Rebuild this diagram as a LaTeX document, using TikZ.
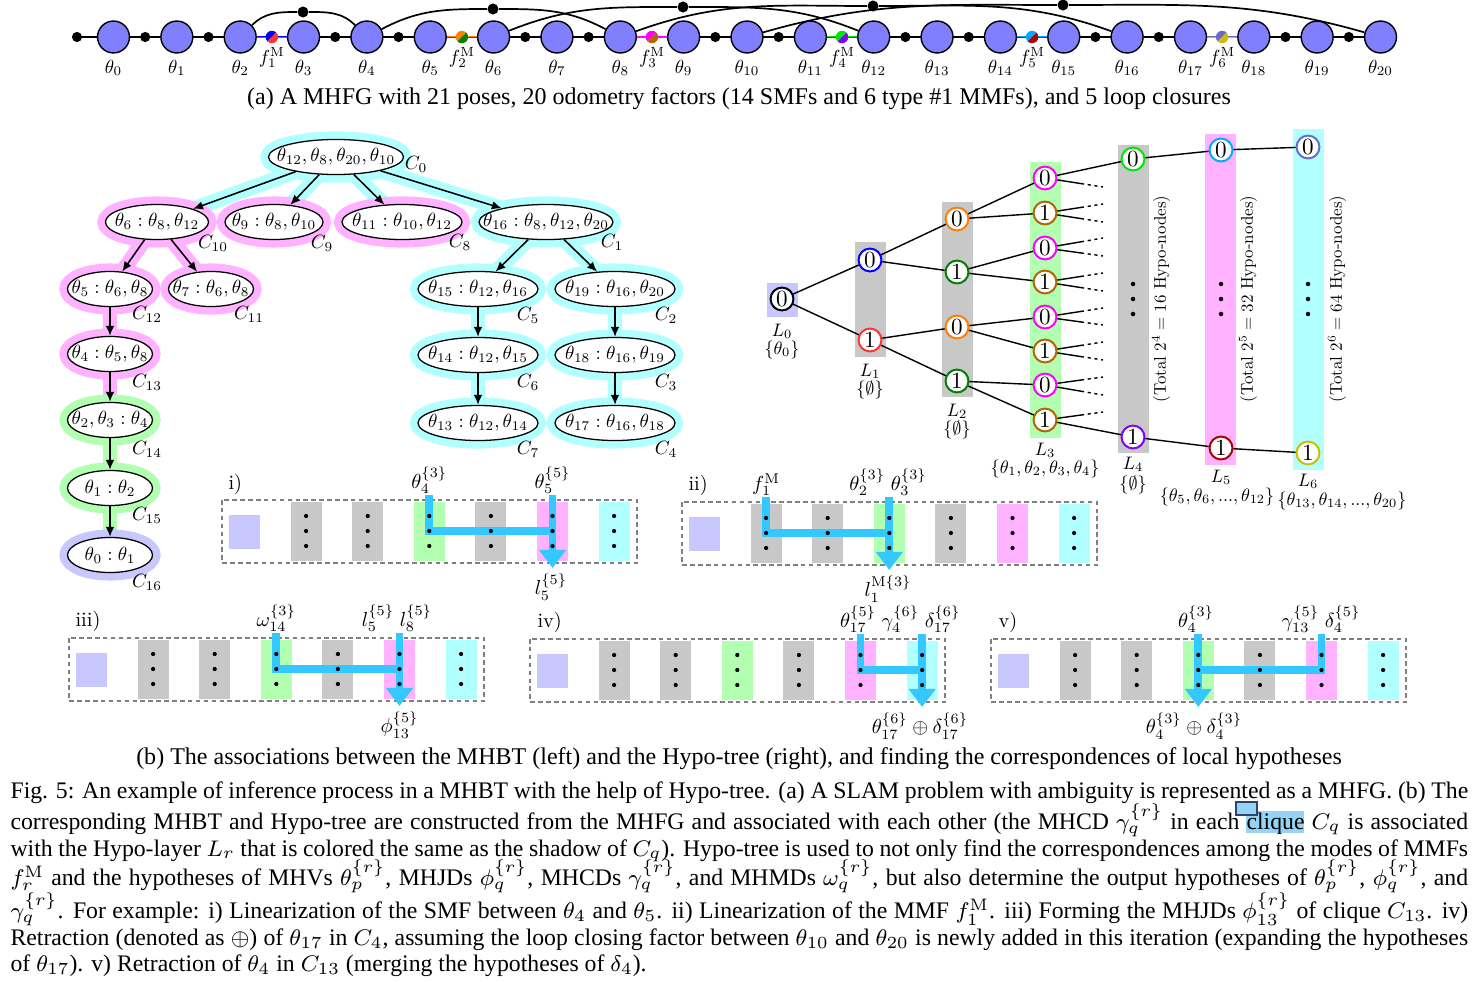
\documentclass[tikz,border=0pt]{standalone}
\usepackage{fontspec}
\usepackage{graphicx}
\newfontfamily\capfont{Liberation Serif}
\usetikzlibrary{shapes.geometric,arrows.meta,calc}
\pgfdeclarelayer{bg}
\pgfsetlayers{bg,main}
\definecolor{poseblue}{RGB}{128,128,255}
\definecolor{hcyan}{RGB}{178,255,255}
\definecolor{hpink}{RGB}{255,178,255}
\definecolor{hgreen}{RGB}{178,255,178}
\definecolor{hlav}{RGB}{200,200,255}
\definecolor{hgray}{RGB}{200,200,200}
\definecolor{acyan}{RGB}{51,200,255}
\definecolor{cliqueblue}{RGB}{150,212,245}
\definecolor{cAa}{RGB}{0,0,255}
\definecolor{cBa}{RGB}{255,51,51}
\definecolor{cAb}{RGB}{255,128,0}
\definecolor{cBb}{RGB}{0,128,0}
\definecolor{cAc}{RGB}{255,0,255}
\definecolor{cBc}{RGB}{180,100,0}
\definecolor{cAd}{RGB}{0,230,0}
\definecolor{cBd}{RGB}{128,0,255}
\definecolor{cAe}{RGB}{0,170,255}
\definecolor{cBe}{RGB}{170,0,0}
\definecolor{cAf}{RGB}{106,106,205}
\definecolor{cBf}{RGB}{204,190,0}
\newcommand\tT[1]{\scalebox{0.67}{#1}}
\newcommand\tE[1]{\scalebox{0.675}{#1}}
\newcommand\tC[1]{\scalebox{0.68}{#1}}
\newcommand\tH[1]{\scalebox{0.64}{#1}}
\newcommand\tR[1]{\scalebox{0.60}{#1}}
\newcommand\tD[1]{\scalebox{0.82}{#1}}
\newcommand\tP[1]{\scalebox{0.72}{#1}}
\tikzset{
 pose/.style={circle, draw, line width=0.5pt, fill=poseblue, minimum size=11.3pt, inner sep=0pt},
 fdot/.style={circle, fill=black, minimum size=3.6pt, inner sep=0pt},
 lcdot/.style={circle, fill=black, minimum size=3.9pt, inner sep=0pt},
 mmf/.style 2 args={circle, minimum size=4.4pt, inner sep=0pt,
   path picture={\fill[#1] (path picture bounding box.north west) -- (path picture bounding box.north east) -- (path picture bounding box.south west) -- cycle;
                 \fill[#2] (path picture bounding box.north east) -- (path picture bounding box.south east) -- (path picture bounding box.south west) -- cycle;}},
 tlab/.style={inner sep=0pt, anchor=base},
 cl/.style={ellipse, draw, fill=white, line width=0.45pt, inner sep=0pt, minimum height=12.4pt,
   preaction={draw=#1, line width=5.7pt}},
 carr/.style={-{Latex[length=3.5pt,width=3pt]}, line width=0.55pt},
 clab/.style={inner sep=0pt},
 hn/.style={circle, draw=#1, fill=white, line width=0.7pt, minimum size=8.1pt, inner sep=0pt},
 hedge/.style={line width=0.5pt},
 hlab/.style={inner sep=0pt, anchor=base},
 pbox/.style={draw=gray, dash pattern=on 1.6pt off 1.2pt, line width=0.45pt},
 abar/.style={draw=acyan, line width=2.8pt},
 aend/.style={-{Triangle[width=9.2pt,length=6.4pt]}},
 plab/.style={inner sep=0pt},
 capn/.style={anchor=base west, inner sep=0pt, font=\capfont\fontsize{8.4}{10}\selectfont},
 subcap/.style={anchor=base, inner sep=0pt, font=\capfont\fontsize{8.5}{10}\selectfont},
 rtxt/.style={rotate=90, inner sep=0pt},
}
\newcommand\hpanel[2]{%
  \draw[pbox] ({#1-7},{#2}) rectangle ({#1+408},{#2+63});
  \fill[hlav] ({#1},{#2+15}) rectangle ({#1+31},{#2+49});
  \foreach \k/\c in {1/hgray,2/hgray,3/hgreen,4/hgray,5/hpink,6/hcyan}{%
    \fill[\c] ({#1+61.6*\k},{#2+2}) rectangle ({#1+61.6*\k+31},{#2+61});
  }%
}
\newcommand\hpdots[2]{%
  \foreach \k in {1,...,6}{%
    \foreach \dy in {16,31,46}{\fill ({#1+61.6*\k+15.5},{#2+\dy}) circle (0.75pt);}
  }%
}
\begin{document}
\begin{tikzpicture}[x=0.354pt,y=-0.354pt]
\begin{pgfonlayer}{bg}
\fill[white] (0,0) rectangle (1478,981);
\fill[cliqueblue] (1246,811) rectangle (1304,833);
\end{pgfonlayer}
\path[use as bounding box] (0,0) rectangle (1478,981);

% ---------------- (a) MHFG ----------------
\node[fdot] (p) at (77,37) {};
\foreach \i in {0,...,20}{
  \node[pose] (t\i) at ({113.5+63.35*\i},37) {};
  \node[tlab] (lt\i) at ({113.5+63.35*\i},73) {\tT{$\theta_{\i}$}};
}
\foreach \i in {0,1,3,4,6,7,9,10,12,13,15,16,18,19}{
  \node[fdot] (o\i) at ({113.5+63.35*(\i+0.5)},37) {};
}
\foreach \i/\k/\a/\b in {2/1/cAa/cBa,5/2/cAb/cBb,8/3/cAc/cBc,11/4/cAd/cBd,14/5/cAe/cBe,17/6/cAf/cBf}{
  \node[mmf={\a}{\b}] (m\k) at ({113.5+63.35*(\i+0.5)},37) {};
  \node[tlab] (lm\k) at ({113.5+63.35*(\i+0.5)},63) {\tT{$f_{\k}^{\mathrm{M}}$}};
}
\begin{pgfonlayer}{bg}
\draw[line width=0.6pt] (p.center) -- (t20.center);
\foreach \i/\j/\a/\b in {2/3/cAa/cBa,5/6/cAb/cBb,8/9/cAc/cBc,11/12/cAd/cBd,14/15/cAe/cBe,17/18/cAf/cBf}{
  \draw[\a, line width=0.9pt] (t\i.center) -- (t\j.center);
  \draw[\b, line width=0.45pt] ([yshift=-0.22pt]t\i.center) -- ([yshift=-0.22pt]t\j.center);
}
\end{pgfonlayer}
\node[lcdot] (lc1) at (303,12) {};
\node[lcdot] (lc2) at (493,9) {};
\node[lcdot] (lc3) at (683,7) {};
\node[lcdot] (lc4) at (873,6) {};
\node[lcdot] (lc5) at (1063,5) {};
\draw[line width=0.6pt] (t2) to[out=45,in=180] (lc1) to[out=0,in=135] (t4);
\draw[line width=0.6pt] (t4) to[out=28,in=180] (lc2) to[out=0,in=152] (t8);
\draw[line width=0.6pt] (t6) to[out=22,in=180] (lc3) to[out=0,in=158] (t12);
\draw[line width=0.6pt] (t8) to[out=20,in=180] (lc4) to[out=0,in=160] (t16);
\draw[line width=0.6pt] (t10) to[out=16,in=180] (lc5) to[out=0,in=164] (t20);
\node[subcap] (capa) at (739,104) {(a) A MHFG with 21 poses, 20 odometry factors (14 SMFs and 6 type \#1 MMFs), and 5 loop closures};

% ---------------- MHBT ----------------
\node[cl=hcyan, minimum width=47.8pt] (C0) at (336,157) {\makebox[0pt]{\tE{$\theta_{12},\theta_8,\theta_{20},\theta_{10}$}}};
\node[cl=hpink, minimum width=36.5pt] (C10) at (157,222) {\makebox[0pt]{\tE{$\theta_6:\theta_8,\theta_{12}$}}};
\node[cl=hpink, minimum width=34.7pt] (C9) at (274,222) {\makebox[0pt]{\tE{$\theta_9:\theta_8,\theta_{10}$}}};
\node[cl=hpink, minimum width=42.5pt] (C8) at (402,222) {\makebox[0pt]{\tE{$\theta_{11}:\theta_{10},\theta_{12}$}}};
\node[cl=hcyan, minimum width=47.4pt] (C1) at (546,222) {\makebox[0pt]{\tE{$\theta_{16}:\theta_8,\theta_{12},\theta_{20}$}}};
\node[cl=hpink, minimum width=30.1pt] (C12) at (110,289) {\makebox[0pt]{\tE{$\theta_5:\theta_6,\theta_8$}}};
\node[cl=hpink, minimum width=30.1pt] (C11) at (211,289) {\makebox[0pt]{\tE{$\theta_7:\theta_6,\theta_8$}}};
\node[cl=hpink, minimum width=30.1pt] (C13) at (110,354) {\makebox[0pt]{\tE{$\theta_4:\theta_5,\theta_8$}}};
\node[cl=hgreen, minimum width=30.1pt] (C14) at (110,420) {\makebox[0pt]{\tE{$\theta_2,\theta_3:\theta_4$}}};
\node[cl=hgreen, minimum width=30.1pt] (C15) at (110,488) {\makebox[0pt]{\tE{$\theta_1:\theta_2$}}};
\node[cl=hlav, minimum width=30.1pt] (C16) at (110,555) {\makebox[0pt]{\tE{$\theta_0:\theta_1$}}};
\node[cl=hcyan, minimum width=42.5pt] (C5) at (478,289) {\makebox[0pt]{\tE{$\theta_{15}:\theta_{12},\theta_{16}$}}};
\node[cl=hcyan, minimum width=42.5pt] (C2) at (615,289) {\makebox[0pt]{\tE{$\theta_{19}:\theta_{16},\theta_{20}$}}};
\node[cl=hcyan, minimum width=42.5pt] (C6) at (478,355) {\makebox[0pt]{\tE{$\theta_{14}:\theta_{12},\theta_{15}$}}};
\node[cl=hcyan, minimum width=42.5pt] (C3) at (615,355) {\makebox[0pt]{\tE{$\theta_{18}:\theta_{16},\theta_{19}$}}};
\node[cl=hcyan, minimum width=42.5pt] (C7) at (478,423) {\makebox[0pt]{\tE{$\theta_{13}:\theta_{12},\theta_{14}$}}};
\node[cl=hcyan, minimum width=42.5pt] (C4) at (615,423) {\makebox[0pt]{\tE{$\theta_{17}:\theta_{16},\theta_{18}$}}};
\begin{pgfonlayer}{bg}
\foreach \a/\b/\c in {C0/C10/hcyan,C0/C9/hcyan,C0/C8/hcyan,C0/C1/hcyan,C10/C12/hpink,C10/C11/hpink,C12/C13/hpink,C13/C14/hpink,C14/C15/hgreen,C15/C16/hgreen,C1/C5/hcyan,C1/C2/hcyan,C5/C6/hcyan,C6/C7/hcyan,C2/C3/hcyan,C3/C4/hcyan}
  \draw[line width=5.3pt, \c] (\a.center) -- (\b.center);
\end{pgfonlayer}
\foreach \a/\b in {C0/C10,C0/C9,C0/C8,C0/C1,C10/C12,C10/C11,C12/C13,C13/C14,C14/C15,C15/C16,C1/C5,C1/C2,C5/C6,C6/C7,C2/C3,C3/C4}
  \draw[carr] (\a) -- (\b);
\foreach \n/\x/\y in {0/416/164,10/213/243,9/322/243,8/460/242,1/612/242,12/147/314,11/249/314,13/147/382,14/147/449,15/147/515,16/147/582,5/528/315,2/666/315,6/528/382,3/666/382,7/528/449,4/666/449}
  \node[clab] (lC\n) at (\x,\y) {\tC{$C_{\n}$}};

% ---------------- Hypo-tree ----------------
\fill[hlav] (767,283) rectangle (798,317);
\fill[hgray] (855,242) rectangle (886,357);
\fill[hgray] (942,202) rectangle (973,397);
\fill[hgreen] (1030,162) rectangle (1061,438);
\fill[hgray] (1118,145) rectangle (1149,453);
\fill[hpink] (1205,134) rectangle (1236,465);
\fill[hcyan] (1293,129) rectangle (1324,470);
\node[hn=black] (h00) at (782,299) {\tD{0}};
\node[hn=cAa] (h10) at (870,260) {\tD{0}};
\node[hn=cBa] (h11) at (870,340) {\tD{1}};
\node[hn=cAb] (h20) at (957,219) {\tD{0}};
\node[hn=cBb] (h21) at (957,272) {\tD{1}};
\node[hn=cAb] (h22) at (957,327) {\tD{0}};
\node[hn=cBb] (h23) at (957,381) {\tD{1}};
\foreach \k/\y/\c/\d in {0/178/cAc/0,1/213/cBc/1,2/248/cAc/0,3/282/cBc/1,4/317/cAc/0,5/351/cBc/1,6/385/cAc/0,7/420/cBc/1}
  \node[hn=\c] (h3\k) at (1045,\y) {\tD{\d}};
\node[hn=cAd] (h40) at (1133,159) {\tD{0}};
\node[hn=cBd] (h41) at (1133,437) {\tD{1}};
\node[hn=cAe] (h50) at (1221,150) {\tD{0}};
\node[hn=cBe] (h51) at (1221,448) {\tD{1}};
\node[hn=cAf] (h60) at (1308,147) {\tD{0}};
\node[hn=cBf] (h61) at (1308,453) {\tD{1}};
\foreach \a/\b in {h00/h10,h00/h11,h10/h20,h10/h21,h11/h22,h11/h23,h20/h30,h20/h31,h21/h32,h21/h33,h22/h34,h22/h35,h23/h36,h23/h37,h30/h40,h37/h41,h40/h50,h50/h60,h41/h51,h51/h61}
  \draw[hedge] (\a) -- (\b);
\foreach \k/\ey [count=\n] in {0/187,1/204,1/222,2/238,2/256,3/273,3/291,4/308,4/325,5/342,5/360,6/377,6/395,7/412}{
  \coordinate (se\n) at (1103,\ey);
  \draw[hedge] (h3\k) -- ($(h3\k.center)!0.62!(se\n)$) coordinate (sm\n);
  \draw[hedge, dash pattern=on 1.1pt off 1.3pt] (sm\n) -- (se\n);
}
\foreach \x in {1133,1221,1308}
  \foreach \y in {284,299,314} \fill (\x,\y) circle (0.8pt);
\node[rtxt] (tot4) at (1161,299) {\tR{(Total $2^4=16$ Hypo-nodes)}};
\node[rtxt] (tot5) at (1248,299) {\tR{(Total $2^5=32$ Hypo-nodes)}};
\node[rtxt] (tot6) at (1337,299) {\tR{(Total $2^6=64$ Hypo-nodes)}};
\node[hlab] (L0) at (782,336) {\tH{$L_0$}};
\node[hlab] (S0) at (782,354) {\tH{$\{\theta_0\}$}};
\node[hlab] (L1) at (870,376) {\tH{$L_1$}};
\node[hlab] (S1) at (870,394) {\tH{$\{\emptyset\}$}};
\node[hlab] (L2) at (957,416) {\tH{$L_2$}};
\node[hlab] (S2) at (957,434) {\tH{$\{\emptyset\}$}};
\node[hlab] (L3) at (1045,455) {\tH{$L_3$}};
\node[hlab] (S3) at (1045,473) {\tH{$\{\theta_1,\theta_2,\theta_3,\theta_4\}$}};
\node[hlab] (L4) at (1133,469) {\tH{$L_4$}};
\node[hlab] (S4) at (1133,489) {\tH{$\{\emptyset\}$}};
\node[hlab] (L5) at (1221,482) {\tH{$L_5$}};
\node[hlab] (S5) at (1217,501) {\tH{$\{\theta_5,\theta_6,...,\theta_{12}\}$}};
\node[hlab] (L6) at (1308,486) {\tH{$L_6$}};
\node[hlab] (S6) at (1342,505) {\tH{$\{\theta_{13},\theta_{14},...,\theta_{20}\}$}};

% ---------------- panels ----------------
% i)
\hpanel{229}{500}
\node[plab, anchor=base west] (pi) at (228,489) {\tP{i)}};
\coordinate (iA) at (429.3,495); \coordinate (iB) at (429.3,531);
\coordinate (iC) at (552.5,531); \coordinate (iD) at (552.5,495); \coordinate (iE) at (552.5,568);
\draw[abar] (iA) -- (iB) -- (iC);
\draw[abar, aend] (iD) -- (iE);
\hpdots{229}{500}
\node[plab, anchor=south] (iL1) at (429.3,494) {\tP{$\theta_4^{\{3\}}$}};
\node[plab, anchor=south] (iL2) at (552.5,494) {\tP{$\theta_5^{\{5\}}$}};
\node[plab, anchor=north] (iL3) at (551,573) {\tP{$l_5^{\{5\}}$}};
% ii)
\hpanel{689}{502}
\node[plab, anchor=base west] (pii) at (688,490) {\tP{ii)}};
\coordinate (iiA) at (766.1,497); \coordinate (iiB) at (766.1,533);
\coordinate (iiC) at (889.3,533); \coordinate (iiD) at (889.3,497); \coordinate (iiE) at (889.3,570);
\draw[abar] (iiA) -- (iiB) -- (iiC);
\draw[abar, aend] (iiD) -- (iiE);
\hpdots{689}{502}
\node[plab, anchor=south] (iiL1) at (766.1,496) {\tP{$f_1^{\mathrm{M}}$}};
\node[plab, anchor=south] (iiL2) at (888,496) {\tP{$\theta_2^{\{3\}}\;\theta_3^{\{3\}}$}};
\node[plab, anchor=north] (iiL3) at (888,575) {\tP{$l_1^{\mathrm{M}\{3\}}$}};
% iii)
\hpanel{76}{638}
\node[plab, anchor=base west] (piii) at (75,626) {\tP{iii)}};
\coordinate (iiiA) at (276.3,633); \coordinate (iiiB) at (276.3,669);
\coordinate (iiiC) at (399.5,669); \coordinate (iiiD) at (399.5,633); \coordinate (iiiE) at (399.5,706);
\draw[abar] (iiiA) -- (iiiB) -- (iiiC);
\draw[abar, aend] (iiiD) -- (iiiE);
\hpdots{76}{638}
\node[plab, anchor=south] (iiiL1) at (276.3,632) {\tP{$\omega_{14}^{\{3\}}$}};
\node[plab, anchor=south] (iiiL2) at (397,632) {\tP{$l_5^{\{5\}}\;l_8^{\{5\}}$}};
\node[plab, anchor=north] (iiiL3) at (399.5,711) {\tP{$\phi_{13}^{\{5\}}$}};
% iv)
\hpanel{537}{639}
\node[plab, anchor=base west] (piv) at (537,627) {\tP{iv)}};
\coordinate (ivA) at (860.5,634); \coordinate (ivB) at (860.5,670);
\coordinate (ivC) at (922.1,670); \coordinate (ivD) at (922.1,634); \coordinate (ivE) at (922.1,707);
\draw[abar] (ivA) -- (ivB) -- (ivC);
\draw[abar, aend] (ivD) -- (ivE);
\hpdots{537}{639}
\node[plab, anchor=south] (ivL1) at (858,633) {\tP{$\theta_{17}^{\{5\}}$}};
\node[plab, anchor=south] (ivL2) at (921,633) {\tP{$\gamma_4^{\{6\}}\;\delta_{17}^{\{6\}}$}};
\node[plab, anchor=north] (ivL3) at (920,712) {\tP{$\theta_{17}^{\{6\}}\oplus\delta_{17}^{\{6\}}$}};
% v)
\hpanel{998}{639}
\node[plab, anchor=base west] (pv) at (998,627) {\tP{v)}};
\coordinate (vA) at (1321.5,634); \coordinate (vB) at (1321.5,670);
\coordinate (vC) at (1198.3,670); \coordinate (vD) at (1198.3,634); \coordinate (vE) at (1198.3,707);
\draw[abar] (vA) -- (vB) -- (vC);
\draw[abar, aend] (vD) -- (vE);
\hpdots{998}{639}
\node[plab, anchor=south] (vL1) at (1196,633) {\tP{$\theta_4^{\{3\}}$}};
\node[plab, anchor=south] (vL2) at (1321,633) {\tP{$\gamma_{13}^{\{5\}}\;\delta_4^{\{5\}}$}};
\node[plab, anchor=north] (vL3) at (1194,712) {\tP{$\theta_4^{\{3\}}\oplus\delta_4^{\{3\}}$}};

\node[subcap] (capb) at (739,764) {(b) The associations between the MHBT (left) and the Hypo-tree (right), and finding the correspondences of local hypotheses};

% ---------------- caption ----------------
\draw[draw={rgb,255:red,40;green,70;blue,110}, fill=cliqueblue, line width=0.4pt] (1236,802) rectangle (1257,815);
\node[capn] (cl1) at (10,798) {\makebox[516pt][s]{Fig. 5: An example of inference process in a MHBT with the help of Hypo-tree. (a) A SLAM problem with ambiguity is represented as a MHFG. (b) The}};
\node[capn] (cl2) at (10,829) {\makebox[516pt][s]{corresponding MHBT and Hypo-tree are constructed from the MHFG and associated with each other (the MHCD $\gamma_q^{\{r\}}$ in each clique $C_q$ is associated}};
\node[capn] (cl3) at (10,856) {\makebox[516pt][s]{with the Hypo-layer $L_r$ that is colored the same as the shadow of $C_q$). Hypo-tree is used to not only find the correspondences among the modes of MMFs}};
\node[capn] (cl4) at (10,885) {\makebox[516pt][s]{$f_r^{\mathrm{M}}$ and the hypotheses of MHVs $\theta_p^{\{r\}}$, MHJDs $\phi_q^{\{r\}}$, MHCDs $\gamma_q^{\{r\}}$, and MHMDs $\omega_q^{\{r\}}$, but also determine the output hypotheses of $\theta_p^{\{r\}}$, $\phi_q^{\{r\}}$, and}};
\node[capn] (cl5) at (10,918) {\makebox[516pt][s]{$\gamma_q^{\{r\}}$. For example: i) Linearization of the SMF between $\theta_4$ and $\theta_5$. ii) Linearization of the MMF $f_1^{\mathrm{M}}$. iii) Forming the MHJDs $\phi_{13}^{\{r\}}$ of clique $C_{13}$. iv)}};
\node[capn] (cl6) at (10,945) {\makebox[516pt][s]{Retraction (denoted as $\oplus$) of $\theta_{17}$ in $C_4$, assuming the loop closing factor between $\theta_{10}$ and $\theta_{20}$ is newly added in this iteration (expanding the hypotheses}};
\node[capn] (cl7) at (10,971) {of $\theta_{17}$). v) Retraction of $\theta_4$ in $C_{13}$ (merging the hypotheses of $\delta_4$).};
\end{tikzpicture}
\end{document}
